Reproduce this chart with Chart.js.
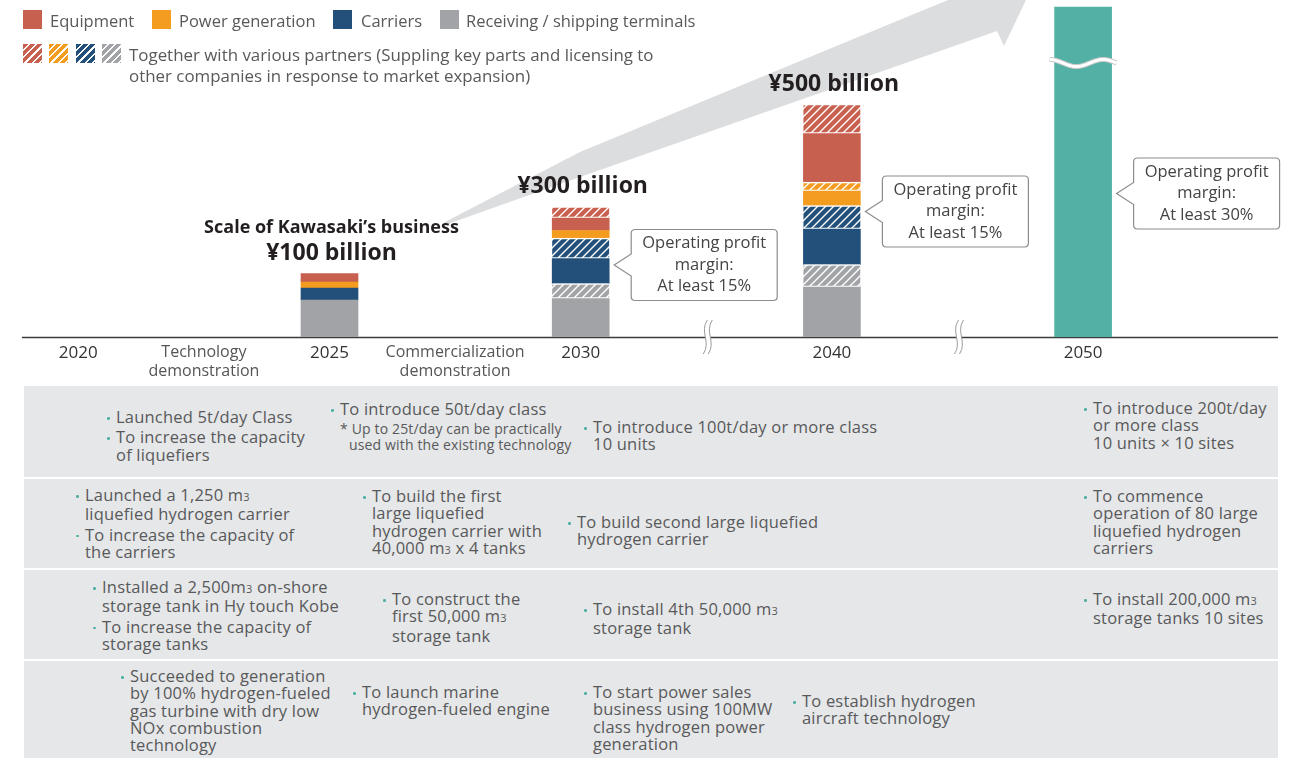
<!DOCTYPE html>
<html>
<head>
<meta charset="utf-8">
<script src="https://cdn.jsdelivr.net/npm/chart.js@4.4.0/dist/chart.umd.min.js"></script>
<style>
body{margin:0;background:#fff;font-family:"Open Sans",sans-serif;color:#58595b;}
#wrap{position:relative;width:1294px;height:758px;overflow:hidden;}
#chartbox{position:absolute;left:0;top:0;width:1294px;height:386px;}
.lg{position:absolute;font-size:16.5px;line-height:21px;white-space:nowrap;color:#58595b;}
.lg.two{font-size:16.9px;}
.sw{position:absolute;width:19px;height:19px;}
.row{position:absolute;left:24px;width:1254px;background:#e6e7e8;}
.cell{position:absolute;font-size:16.5px;letter-spacing:0.2px;line-height:17.3px;white-space:nowrap;color:#58595b;}
.cell .b{position:relative;padding-left:10px;margin-bottom:3px;}
.cell .b:before{content:"";position:absolute;left:1px;top:9px;width:2.6px;height:2.6px;background:#52b1a4;border-radius:50%;}
.cell small{font-size:11px;}
.note{font-size:14px;letter-spacing:0.15px;line-height:16px;padding-left:19px;text-indent:-9px;margin-top:4px;}
</style>
</head>
<body>
<div id="wrap">
  <div id="chartbox"><canvas id="c"></canvas></div>
  <div id="legend"></div>
  <div id="table"></div>
</div>
<script>
// categories on the time axis ('' = axis break)
const labels = ['2020', ['Technology', 'demonstration'], '2025', ['Commercialization', 'demonstration'], '2030', '', '2040', '', '2050', ''];

// segment heights, bottom to top (chart units)
const receiving        = [null, null, 37,   null, 38.5, null, 50,   null, null, null];
const receivingPartner = [null, null, null, null, 15,   null, 22.5, null, null, null];
const carriers         = [null, null, 12,   null, 25,   null, 35.5, null, null, null];
const carriersPartner  = [null, null, null, null, 20.5, null, 23.5, null, null, null];
const power            = [null, null, 6,    null, 7.5,  null, 14.5, null, null, null];
const powerPartner     = [null, null, null, null, null, null, 9,    null, null, null];
const equipment        = [null, null, 8.5,  null, 12.5, null, 48.5, null, null, null];
const equipmentPartner = [null, null, null, null, 11.5, null, 29.5, null, null, null];
const total2050        = [null, null, null, null, null, null, null, null, 330,  null];

const scaleLabels = ['', '', '¥100 billion', '', '¥300 billion', '', '¥500 billion', '', '', ''];
const headline = 'Scale of Kawasaki\u2019s business';
const axisBreaks = [5, 7];
const breakLevel = 274;

const calloutSlots = [4, 6, 8];
const calloutLevels = [72, 125.5, 143.5];
const calloutTexts = [
  ['Operating profit', 'margin:', 'At least 15%'],
  ['Operating profit', 'margin:', 'At least 15%'],
  ['Operating profit', 'margin:', 'At least 30%']
];

const RED = '#c8604f', ORANGE = '#f49c1f', BLUE = '#23507a', GRAY = '#a2a3a6', TEAL = '#52b1a4';
const FONT = "'Open Sans', sans-serif";

// legend (html)
const legendItems = [
  {x: 23, color: RED, text: 'Equipment', tx: 50},
  {x: 152, color: ORANGE, text: 'Power generation', tx: 179},
  {x: 333, color: BLUE, text: 'Carriers', tx: 361},
  {x: 440, color: GRAY, text: 'Receiving / shipping terminals', tx: 466}
];
let lg = '';
legendItems.forEach(function (it) {
  lg += '<div class="sw" style="left:' + it.x + 'px;top:10px;background:' + it.color + '"></div>';
  lg += '<div class="lg" style="left:' + it.tx + 'px;top:10px">' + it.text + '</div>';
});
[RED, ORANGE, BLUE, GRAY].forEach(function (c, i) {
  lg += '<div class="sw" style="left:' + [23, 49, 76, 102][i] + 'px;top:44px;background:repeating-linear-gradient(135deg,' + c + ' 0 3.6px,#fff 3.6px 5.2px)"></div>';
});
lg += '<div class="lg two" style="left:129px;top:44px">Together with various partners (Suppling key parts and licensing to<br>other companies in response to market expansion)</div>';
document.getElementById('legend').innerHTML = lg;

// roadmap table (html)
const rows = [[386, 91], [479, 89], [570, 89], [661, 97]];
const cells = [
  {x: 106, y: 408, items: ['Launched 5t/day Class', 'To increase the capacity<br>of liquefiers']},
  {x: 330, y: 400, items: ['To introduce 50t/day class'], note: '* Up to 25t/day can be practically<br>used with the existing technology'},
  {x: 583, y: 418, items: ['To introduce 100t/day or more class<br>10 units']},
  {x: 1083, y: 399, items: ['To introduce 200t/day<br>or more class<br>10 units × 10 sites']},
  {x: 75, y: 486, items: ['Launched a 1,250 m<small>3</small><br>liquefied hydrogen carrier', 'To increase the capacity of<br>the carriers']},
  {x: 362, y: 487, items: ['To build the first<br>large liquefied<br>hydrogen carrier with<br>40,000 m<small>3</small> x 4 tanks']},
  {x: 567, y: 513, items: ['To build second large liquefied<br>hydrogen carrier']},
  {x: 1083, y: 487, items: ['To commence<br>operation of 80 large<br>liquefied hydrogen<br>carriers']},
  {x: 92, y: 578, items: ['Installed a 2,500m<small>3</small> on-shore<br>storage tank in Hy touch Kobe', 'To increase the capacity of<br>storage tanks']},
  {x: 382, y: 590, items: ['To construct the<br>first 50,000 m<small>3</small><br>storage tank']},
  {x: 583, y: 600, items: ['To install 4th 50,000 m<small>3</small><br>storage tank']},
  {x: 1083, y: 590, items: ['To install 200,000 m<small>3</small><br>storage tanks 10 sites']},
  {x: 120, y: 667, items: ['Succeeded to generation<br>by 100% hydrogen-fueled<br>gas turbine with dry low<br>NOx combustion<br>technology']},
  {x: 352, y: 683, items: ['To launch marine<br>hydrogen-fueled engine']},
  {x: 583, y: 683, items: ['To start power sales<br>business using 100MW<br>class hydrogen power<br>generation']},
  {x: 792, y: 692, items: ['To establish hydrogen<br>aircraft technology']}
];
let tb = '';
rows.forEach(function (r) { tb += '<div class="row" style="top:' + r[0] + 'px;height:' + r[1] + 'px"></div>'; });
cells.forEach(function (c) {
  tb += '<div class="cell" style="left:' + c.x + 'px;top:' + c.y + 'px">';
  c.items.forEach(function (t) { tb += '<div class="b">' + t + '</div>'; });
  if (c.note) tb += '<div class="note">' + c.note + '</div>';
  tb += '</div>';
});
document.getElementById('table').innerHTML = tb;

// chart
const canvas = document.getElementById('c');
function hatch(color) {
  const t = document.createElement('canvas');
  t.width = 8; t.height = 8;
  const g = t.getContext('2d');
  g.fillStyle = color; g.fillRect(0, 0, 8, 8);
  g.strokeStyle = '#fff'; g.lineWidth = 1.4;
  g.beginPath();
  g.moveTo(0, 8); g.lineTo(8, 0);
  g.moveTo(-1, 1); g.lineTo(1, -1);
  g.moveTo(7, 9); g.lineTo(9, 7);
  g.stroke();
  return canvas.getContext('2d').createPattern(t, 'repeat');
}
function solid(label, data, color) {
  return {label: label, data: data, backgroundColor: color, borderWidth: 0};
}
function partner(label, data, color) {
  return {label: label, data: data, backgroundColor: hatch(color), borderColor: '#fff',
    borderWidth: {top: 1.5, bottom: 1.5, left: 0, right: 0}, borderSkipped: false};
}

const deco = {
  id: 'deco',
  beforeDatasetsDraw(chart) {
    const ctx = chart.ctx, a = chart.chartArea;
    ctx.save();
    ctx.fillStyle = '#dcdddf';
    ctx.beginPath();
    ctx.moveTo(443, 223);
    ctx.lineTo(580, 152);
    ctx.lineTo(880, 28);
    ctx.lineTo(948, 0);
    ctx.lineTo(1026, 0);
    ctx.lineTo(1004, 46);
    ctx.lineTo(997, 31);
    ctx.lineTo(880, 72);
    ctx.lineTo(580, 177);
    ctx.lineTo(445, 225);
    ctx.closePath();
    ctx.fill();
    ctx.strokeStyle = '#3c3c3c'; ctx.lineWidth = 1.3;
    ctx.beginPath(); ctx.moveTo(22, a.bottom + 0.5); ctx.lineTo(1278, a.bottom + 0.5); ctx.stroke();
    ctx.restore();
  },
  afterDatasetsDraw(chart) {
    const ctx = chart.ctx, a = chart.chartArea, x = chart.scales.x, y = chart.scales.y;
    ctx.save();
    // axis breaks
    axisBreaks.forEach(function (i) {
      const px = x.getPixelForValue(i), t = a.bottom - 17, b = a.bottom + 17;
      ctx.fillStyle = '#fff';
      ctx.beginPath();
      ctx.moveTo(px + 1, t); ctx.bezierCurveTo(px - 7, t + 12, px + 5, b - 12, px - 3, b);
      ctx.lineTo(px + 2, b); ctx.bezierCurveTo(px + 10, b - 12, px - 2, t + 12, px + 6, t);
      ctx.closePath(); ctx.fill();
      ctx.strokeStyle = '#9a9a9a'; ctx.lineWidth = 1;
      [0, 5].forEach(function (o) {
        ctx.beginPath();
        ctx.moveTo(px + 1 + o, t); ctx.bezierCurveTo(px - 7 + o, t + 12, px + 5 + o, b - 12, px - 3 + o, b);
        ctx.stroke();
      });
    });
    // value break on the 2050 bar
    const bar = chart.getDatasetMeta(8).data[8];
    if (bar) {
      const yb = y.getPixelForValue(breakLevel), x0 = bar.x - bar.width / 2 - 5, x1 = bar.x + bar.width / 2 + 5;
      [['#c8c8c8', 5], ['#fff', 3]].forEach(function (s) {
        ctx.strokeStyle = s[0]; ctx.lineWidth = s[1];
        ctx.beginPath();
        for (let k = 0; k <= 40; k++) {
          const t = k / 40, xx = x0 + (x1 - x0) * t, yy = yb + 3.5 * Math.sin(2 * Math.PI * 1.25 * t - Math.PI / 2);
          if (k === 0) ctx.moveTo(xx, yy); else ctx.lineTo(xx, yy);
        }
        ctx.stroke();
      });
    }
    // scale labels above the stacks
    ctx.fillStyle = '#231f20';
    ctx.textAlign = 'center'; ctx.textBaseline = 'middle';
    const series = [receiving, receivingPartner, carriers, carriersPartner, power, powerPartner, equipment, equipmentPartner];
    scaleLabels.forEach(function (txt, i) {
      if (!txt) return;
      let sum = 0;
      series.forEach(function (s) { sum += s[i] || 0; });
      const top = y.getPixelForValue(sum), cx = x.getPixelForValue(i);
      ctx.font = 'bold 23px ' + FONT;
      ctx.fillText(txt, cx + 2, top - 20);
      if (i === 2) {
        ctx.font = 'bold 18px ' + FONT;
        ctx.fillText(headline, cx + 2, top - 46);
      }
    });
    // callouts
    calloutSlots.forEach(function (idx, k) {
      const right = x.getPixelForValue(idx) + 28.5, cy = y.getPixelForValue(calloutLevels[k]);
      const L = right + 22, R = L + 146, T = cy - 35.5, B = cy + 35.5, r = 4, tip = right + 5;
      ctx.beginPath();
      ctx.moveTo(L + r, T); ctx.lineTo(R - r, T); ctx.quadraticCurveTo(R, T, R, T + r);
      ctx.lineTo(R, B - r); ctx.quadraticCurveTo(R, B, R - r, B);
      ctx.lineTo(L + r, B); ctx.quadraticCurveTo(L, B, L, B - r);
      ctx.lineTo(L, cy + 11); ctx.lineTo(tip, cy); ctx.lineTo(L, cy - 11);
      ctx.lineTo(L, T + r); ctx.quadraticCurveTo(L, T, L + r, T);
      ctx.closePath();
      ctx.fillStyle = '#fff'; ctx.fill();
      ctx.strokeStyle = '#8c8c8c'; ctx.lineWidth = 1.2; ctx.stroke();
      ctx.fillStyle = '#444'; ctx.font = '16.5px ' + FONT;
      calloutTexts[k].forEach(function (line, j) {
        ctx.fillText(line, (L + R) / 2, cy + (j - 1) * 21.5);
      });
    });
    ctx.restore();
  }
};

function isYear(i) { return typeof labels[i] === 'string' && /^\d{4}$/.test(labels[i]); }

function draw() {
  new Chart(canvas, {
    type: 'bar',
    data: {
      labels: labels,
      datasets: [
        solid('Receiving / shipping terminals', receiving, GRAY),
        partner('Receiving (partners)', receivingPartner, GRAY),
        solid('Carriers', carriers, BLUE),
        partner('Carriers (partners)', carriersPartner, BLUE),
        solid('Power generation', power, ORANGE),
        partner('Power generation (partners)', powerPartner, ORANGE),
        solid('Equipment', equipment, RED),
        partner('Equipment (partners)', equipmentPartner, RED),
        solid('2050', total2050, TEAL)
      ]
    },
    options: {
      responsive: true,
      maintainAspectRatio: false,
      animation: false,
      datasets: {bar: {barThickness: 57}},
      layout: {padding: {left: 15.5, right: 22.5, top: 0, bottom: 0}},
      plugins: {legend: {display: false}, tooltip: {enabled: false}},
      scales: {
        x: {
          stacked: true,
          grid: {display: false, drawTicks: false},
          border: {display: false},
          afterFit: function (s) { s.height = 49; },
          ticks: {
            autoSkip: false, maxRotation: 0, padding: 6,
            color: function (c) { return isYear(c.index) ? '#333' : '#555'; },
            font: function (c) {
              return isYear(c.index) ? {family: FONT, size: 17, weight: '500'} : {family: FONT, size: 16};
            }
          }
        },
        y: {stacked: true, display: false, min: 0, max: 337}
      }
    },
    plugins: [deco]
  });
}
if (document.fonts && document.fonts.load) {
  Promise.all([
    document.fonts.load('16px "Open Sans"'),
    document.fonts.load('bold 16px "Open Sans"')
  ]).then(draw, draw);
} else {
  draw();
}
</script>
</body>
</html>
